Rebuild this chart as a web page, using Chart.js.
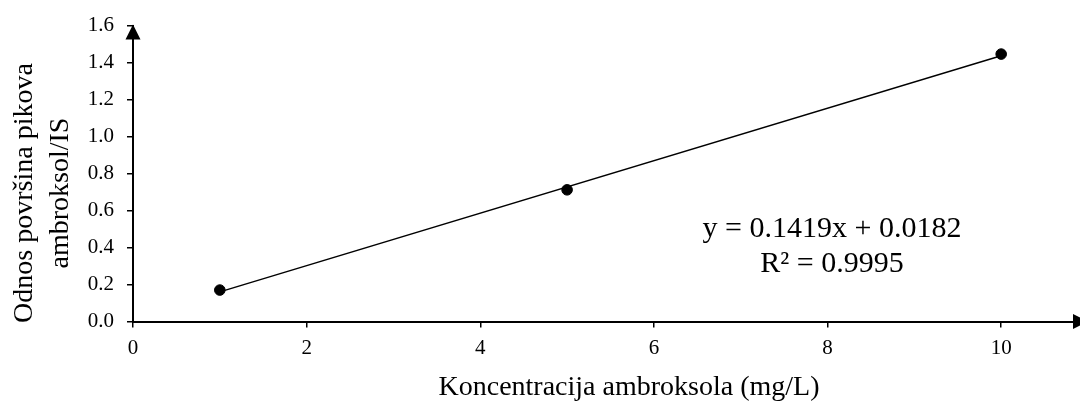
<!DOCTYPE html>
<html>
<head>
<meta charset="utf-8">
<script src="https://cdn.jsdelivr.net/npm/chart.js@4"></script>
<style>
  html, body { margin: 0; padding: 0; background: #fff; overflow: hidden; }
  #wrap { width: 1095px; height: 402px; }
</style>
</head>
<body>
<div id="wrap"><canvas id="calChart" width="1095" height="402"></canvas></div>
<script>
// podaci kalibracije (ocitano sa slike)
const koncentracije = [1, 5, 10];
const odnosPovrsina = [0.170, 0.712, 1.446];

// linija trenda (krajnje tacke ocitane sa slike)
const trendX = [1, 10];
const trendY = [0.160, 1.437];

// oznake na osama
const xTicks = [0, 2, 4, 6, 8, 10];
const yTicks = [0, 0.2, 0.4, 0.6, 0.8, 1.0, 1.2, 1.4, 1.6];

const xTitle = 'Koncentracija ambroksola (mg/L)';
const yTitle = ['Odnos površina pikova', 'ambroksol/IS'];
const equationLines = ['y = 0.1419x + 0.0182', 'R² = 0.9995'];

const serif = '"Liberation Serif", "Times New Roman", serif';

// crta strelice na osama, naslove osa i jednacinu
const annotationsPlugin = {
  id: 'annotations',
  afterDraw(chart) {
    const ctx = chart.ctx;
    const area = chart.chartArea;
    const xs = chart.scales.x;
    const ys = chart.scales.y;
    const axisX = xs.getPixelForValue(0);
    const axisY = ys.getPixelForValue(0);

    ctx.save();
    ctx.fillStyle = '#000';

    // strelica na y osi
    ctx.beginPath();
    ctx.moveTo(axisX, area.top - 1);
    ctx.lineTo(axisX - 7.5, area.top + 14);
    ctx.lineTo(axisX + 7.5, area.top + 14);
    ctx.closePath();
    ctx.fill();

    // strelica na x osi
    ctx.beginPath();
    ctx.moveTo(area.right, axisY);
    ctx.lineTo(area.right - 15, axisY - 7.5);
    ctx.lineTo(area.right - 15, axisY + 7.5);
    ctx.closePath();
    ctx.fill();

    // naslov x ose
    ctx.font = '28px ' + serif;
    ctx.textAlign = 'center';
    ctx.textBaseline = 'alphabetic';
    ctx.fillText(xTitle, 629, 395);

    // naslov y ose (dva reda, rotirano)
    ctx.save();
    ctx.translate(0, 193);
    ctx.rotate(-Math.PI / 2);
    ctx.fillText(yTitle[0], 0, 32);
    ctx.fillText(yTitle[1], 0, 68);
    ctx.restore();

    // jednacina regresije
    ctx.font = '30px ' + serif;
    ctx.fillText(equationLines[0], 832, 237);
    ctx.fillText(equationLines[1], 832, 272);

    ctx.restore();
  }
};

const ctx = document.getElementById('calChart').getContext('2d');
new Chart(ctx, {
  type: 'scatter',
  data: {
    datasets: [
      {
        label: 'Trend',
        type: 'line',
        data: trendX.map((x, i) => ({ x: x, y: trendY[i] })),
        borderColor: '#000',
        borderWidth: 1.4,
        pointRadius: 0,
        fill: false,
        order: 2
      },
      {
        label: 'Odnos',
        data: koncentracije.map((x, i) => ({ x: x, y: odnosPovrsina[i] })),
        backgroundColor: '#000',
        borderColor: '#000',
        pointRadius: 5.3,
        order: 1
      }
    ]
  },
  options: {
    responsive: false,
    animation: false,
    layout: { padding: { left: 0, right: 7, top: 22.7, bottom: 0 } },
    plugins: {
      legend: { display: false },
      tooltip: { enabled: false }
    },
    scales: {
      x: {
        type: 'linear',
        position: 'bottom',
        min: 0,
        max: 11,
        border: { display: true, color: '#000', width: 2 },
        grid: { display: true, drawOnChartArea: false, drawTicks: true, tickLength: 6, color: '#000', lineWidth: 1.5 },
        ticks: {
          color: '#000',
          font: { family: serif, size: 21 },
          padding: 8,
          maxRotation: 0,
          includeBounds: false,
          callback: v => String(v)
        },
        afterBuildTicks: scale => { scale.ticks = xTicks.map(v => ({ value: v })); },
        afterFit: scale => { scale.height = 80.5; }
      },
      y: {
        type: 'linear',
        min: 0,
        max: 1.6,
        border: { display: true, color: '#000', width: 2 },
        grid: { display: true, drawOnChartArea: false, drawTicks: true, tickLength: 6, color: '#000', lineWidth: 1.5 },
        ticks: {
          color: '#000',
          font: { family: serif, size: 21 },
          padding: 13,
          callback: v => Number(v).toFixed(1)
        },
        afterBuildTicks: scale => { scale.ticks = yTicks.map(v => ({ value: v })); },
        afterFit: scale => { scale.width = 133; }
      }
    }
  },
  plugins: [annotationsPlugin]
});
</script>
</body>
</html>
